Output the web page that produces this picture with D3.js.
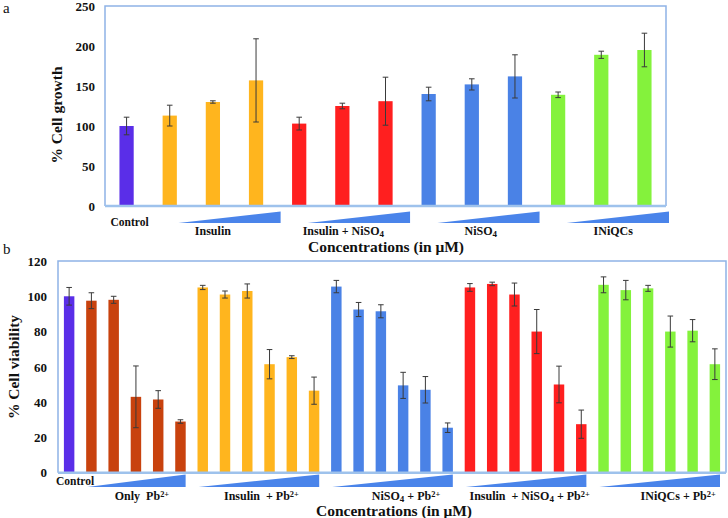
<!DOCTYPE html>
<html><head><meta charset="utf-8">
<script src="https://cdn.jsdelivr.net/npm/d3@7"></script>
<style>body{margin:0;background:#fff}svg{display:block}</style>
</head><body>
<svg id="c" width="728" height="518"></svg>
<script>
// ---- data (a) ----
const topGroups = ["Control", "Insulin", "Insulin + NiSO|4", "NiSO|4", "INiQCs"];
const topGroupOfBar = [0, 1, 1, 1, 2, 2, 2, 3, 3, 3, 4, 4, 4];
const topValues = [100, 113, 130, 157, 103, 125, 131, 140, 152, 162, 139, 189, 195];
const topErrors = [11, 13, 1.5, 52, 8, 3.5, 30, 8.5, 7, 27, 3.5, 4.5, 21];
const topTicks = [0, 50, 100, 150, 200, 250];

// ---- data (b) ----
const botGroups = ["Control", "Only  Pb^2+", "Insulin  + Pb^2+", "NiSO|4 + Pb^2+", "Insulin  + NiSO|4 + Pb^2+", "INiQCs + Pb^2+"];
const botGroupOfBar = [0, 1, 1, 1, 1, 1, 2, 2, 2, 2, 2, 2, 3, 3, 3, 3, 3, 3, 4, 4, 4, 4, 4, 4, 5, 5, 5, 5, 5, 5];
const botValues = [100, 97.5, 98, 43, 41.5, 29,
  105, 101, 103, 61.5, 65.5, 46.5,
  105.5, 92.5, 91.5, 49.5, 47, 25.5,
  105, 107, 101, 80, 50, 27.5,
  106.5, 103.5, 104.5, 80, 80.5, 61.5];
const botErrors = [5, 4.5, 2, 17.5, 5, 1,
  1.2, 2, 4, 8.3, 0.8, 7.7,
  3.5, 4, 3.7, 7.4, 7.5, 2.7,
  2.2, 1, 6.5, 12.5, 10.4, 8,
  4.5, 5.5, 1.7, 8.8, 6.3, 8.7];
const botTicks = [0, 20, 40, 60, 80, 100, 120];

// ---- styles ----
const FONT = "Liberation Serif";
const topColors = ["#5a2ee8", "#ffb51e", "#ff1f1f", "#4a82e6", "#84f23c"];
const botColors = ["#5a2ee8", "#c8420e", "#ffb51e", "#4a82e6", "#ff1f1f", "#84f23c"];
const wedgeColor = "#4a84ea";
const borderColor = "#8fb3e6";
const topLabelNudge = [3, 0, 1, 9, 12];
const botLabelNudge = [6, 6, 3, 14, 4, 19];

const svg = d3.select("#c");

function richText(sel, str) {
  const re = /(\|.|\^[^\s]+)/g;
  let last = 0, m;
  while ((m = re.exec(str)) !== null) {
    if (m.index > last) sel.append("tspan").text(str.slice(last, m.index));
    if (m[0][0] === "|") sel.append("tspan").attr("baseline-shift", "-20%").attr("font-size", "75%").text(m[0].slice(1));
    else sel.append("tspan").attr("baseline-shift", "40%").attr("font-size", "70%").text(m[0].slice(1));
    last = m.index + m[0].length;
  }
  if (last < str.length) sel.append("tspan").text(str.slice(last));
}

function panel(cfg) {
  const g = svg.append("g");
  const x = d3.scaleBand().domain(d3.range(cfg.values.length)).range([cfg.x0, cfg.x1]).padding(0);
  const y = d3.scaleLinear().domain([0, cfg.ymax]).range([cfg.yb, cfg.yt]);
  const bw = x.bandwidth();
  const barW = bw * cfg.barFrac;

  g.append("path").attr("d", `M${cfg.x0},${cfg.yb}V${cfg.yt}H${cfg.x1}V${cfg.yb}`)
    .attr("fill", "none").attr("stroke", borderColor).attr("stroke-width", 1.5);

  g.selectAll("rect.bar").data(cfg.values).join("rect")
    .attr("x", (d, i) => x(i) + (bw - barW) / 2)
    .attr("width", barW)
    .attr("y", d => y(d))
    .attr("height", d => y(0) - y(d))
    .attr("fill", (d, i) => cfg.colors[cfg.groupOf[i]]);

  const eb = g.selectAll("g.eb").data(cfg.values).join("g")
    .attr("stroke", "#3a3a3a").attr("stroke-width", 1);
  const cx = i => x(i) + bw / 2;
  eb.append("line").attr("x1", (d, i) => cx(i)).attr("x2", (d, i) => cx(i))
    .attr("y1", (d, i) => y(d + cfg.errors[i])).attr("y2", (d, i) => y(d - cfg.errors[i]));
  eb.append("line").attr("x1", (d, i) => cx(i) - cfg.cap).attr("x2", (d, i) => cx(i) + cfg.cap)
    .attr("y1", (d, i) => y(d + cfg.errors[i])).attr("y2", (d, i) => y(d + cfg.errors[i]));
  eb.append("line").attr("x1", (d, i) => cx(i) - cfg.cap).attr("x2", (d, i) => cx(i) + cfg.cap)
    .attr("y1", (d, i) => y(d - cfg.errors[i])).attr("y2", (d, i) => y(d - cfg.errors[i]));

  g.append("line").attr("x1", cfg.x0).attr("x2", cfg.x1).attr("y1", cfg.yb).attr("y2", cfg.yb)
    .attr("stroke", "#9ec2ec").attr("stroke-width", 2.5);

  const ax = g.append("g").attr("transform", `translate(${cfg.x0},0)`)
    .call(d3.axisLeft(y).tickValues(cfg.ticks).tickSize(0).tickPadding(cfg.tickPad));
  ax.select(".domain").remove();
  ax.selectAll("text").attr("font-family", FONT).attr("font-weight", "bold")
    .attr("font-size", 13).attr("fill", "#111");

  g.append("text").attr("transform", `translate(${cfg.ytX},${cfg.ytY}) rotate(-90)`)
    .attr("text-anchor", "middle").attr("dominant-baseline", "middle")
    .attr("font-family", FONT).attr("font-weight", "bold").attr("font-size", 15.5).attr("fill", "#111")
    .text(cfg.ytitle);

  cfg.groups.forEach((name, gi) => {
    const idx = d3.range(cfg.values.length).filter(i => cfg.groupOf[i] === gi);
    const first = idx[0], last = idx[idx.length - 1];
    const gx0 = x(first), gx1 = x(last) + bw;
    if (gi > 0) {
      const wx0 = gx0 + cfg.wedgeIn0(bw), wx1 = gx1 + cfg.wedgeIn1(bw);
      g.append("path").attr("d", `M${wx0},${cfg.wedgeB}L${wx1},${cfg.wedgeT}L${wx1},${cfg.wedgeB}Z`)
        .attr("fill", wedgeColor);
    }
    const t = g.append("text")
      .attr("x", (gx0 + gx1) / 2 + cfg.nudge[gi])
      .attr("y", gi === 0 ? cfg.ctrlY : cfg.labY)
      .attr("text-anchor", "middle").attr("font-family", FONT).attr("font-weight", "bold")
      .attr("font-size", gi === 0 ? 11.5 : 12).attr("fill", "#111").attr("xml:space", "preserve");
    richText(t, name);
  });

  g.append("text").attr("x", cfg.xtX).attr("y", cfg.xtY).attr("text-anchor", "middle")
    .attr("font-family", FONT).attr("font-weight", "bold").attr("font-size", 15.5).attr("fill", "#111")
    .text("Concentrations (in μM)");

  g.append("text").attr("x", cfg.tagX).attr("y", cfg.tagY).attr("font-family", FONT)
    .attr("font-size", 15).attr("fill", "#111").text(cfg.tag);
}

panel({
  values: topValues, errors: topErrors, groupOf: topGroupOfBar, groups: topGroups, colors: topColors,
  ticks: topTicks, ymax: 250, x0: 105, x1: 666, yt: 6, yb: 206, barFrac: 0.33, cap: 2.8, tickPad: 10,
  ytitle: "% Cell growth", ytX: 58, ytY: 115,
  wedgeB: 223, wedgeT: 211.5, wedgeIn0: bw => bw * 0.7, wedgeIn1: bw => 3,
  ctrlY: 226, labY: 235, nudge: topLabelNudge, xtX: 386, xtY: 252,
  tag: "a", tagX: 3, tagY: 13
});

panel({
  values: botValues, errors: botErrors, groupOf: botGroupOfBar, groups: botGroups, colors: botColors,
  ticks: botTicks, ymax: 120, x0: 58, x1: 726, yt: 261, yb: 472.7, barFrac: 0.47, cap: 2.8, tickPad: 11,
  ytitle: "% Cell viability", ytX: 15, ytY: 367,
  wedgeB: 487, wedgeT: 474.5, wedgeIn0: bw => 7, wedgeIn1: bw => -6,
  ctrlY: 485, labY: 499.5, nudge: botLabelNudge, xtX: 394, xtY: 516,
  tag: "b", tagX: 3, tagY: 254
});
</script>
</body></html>
